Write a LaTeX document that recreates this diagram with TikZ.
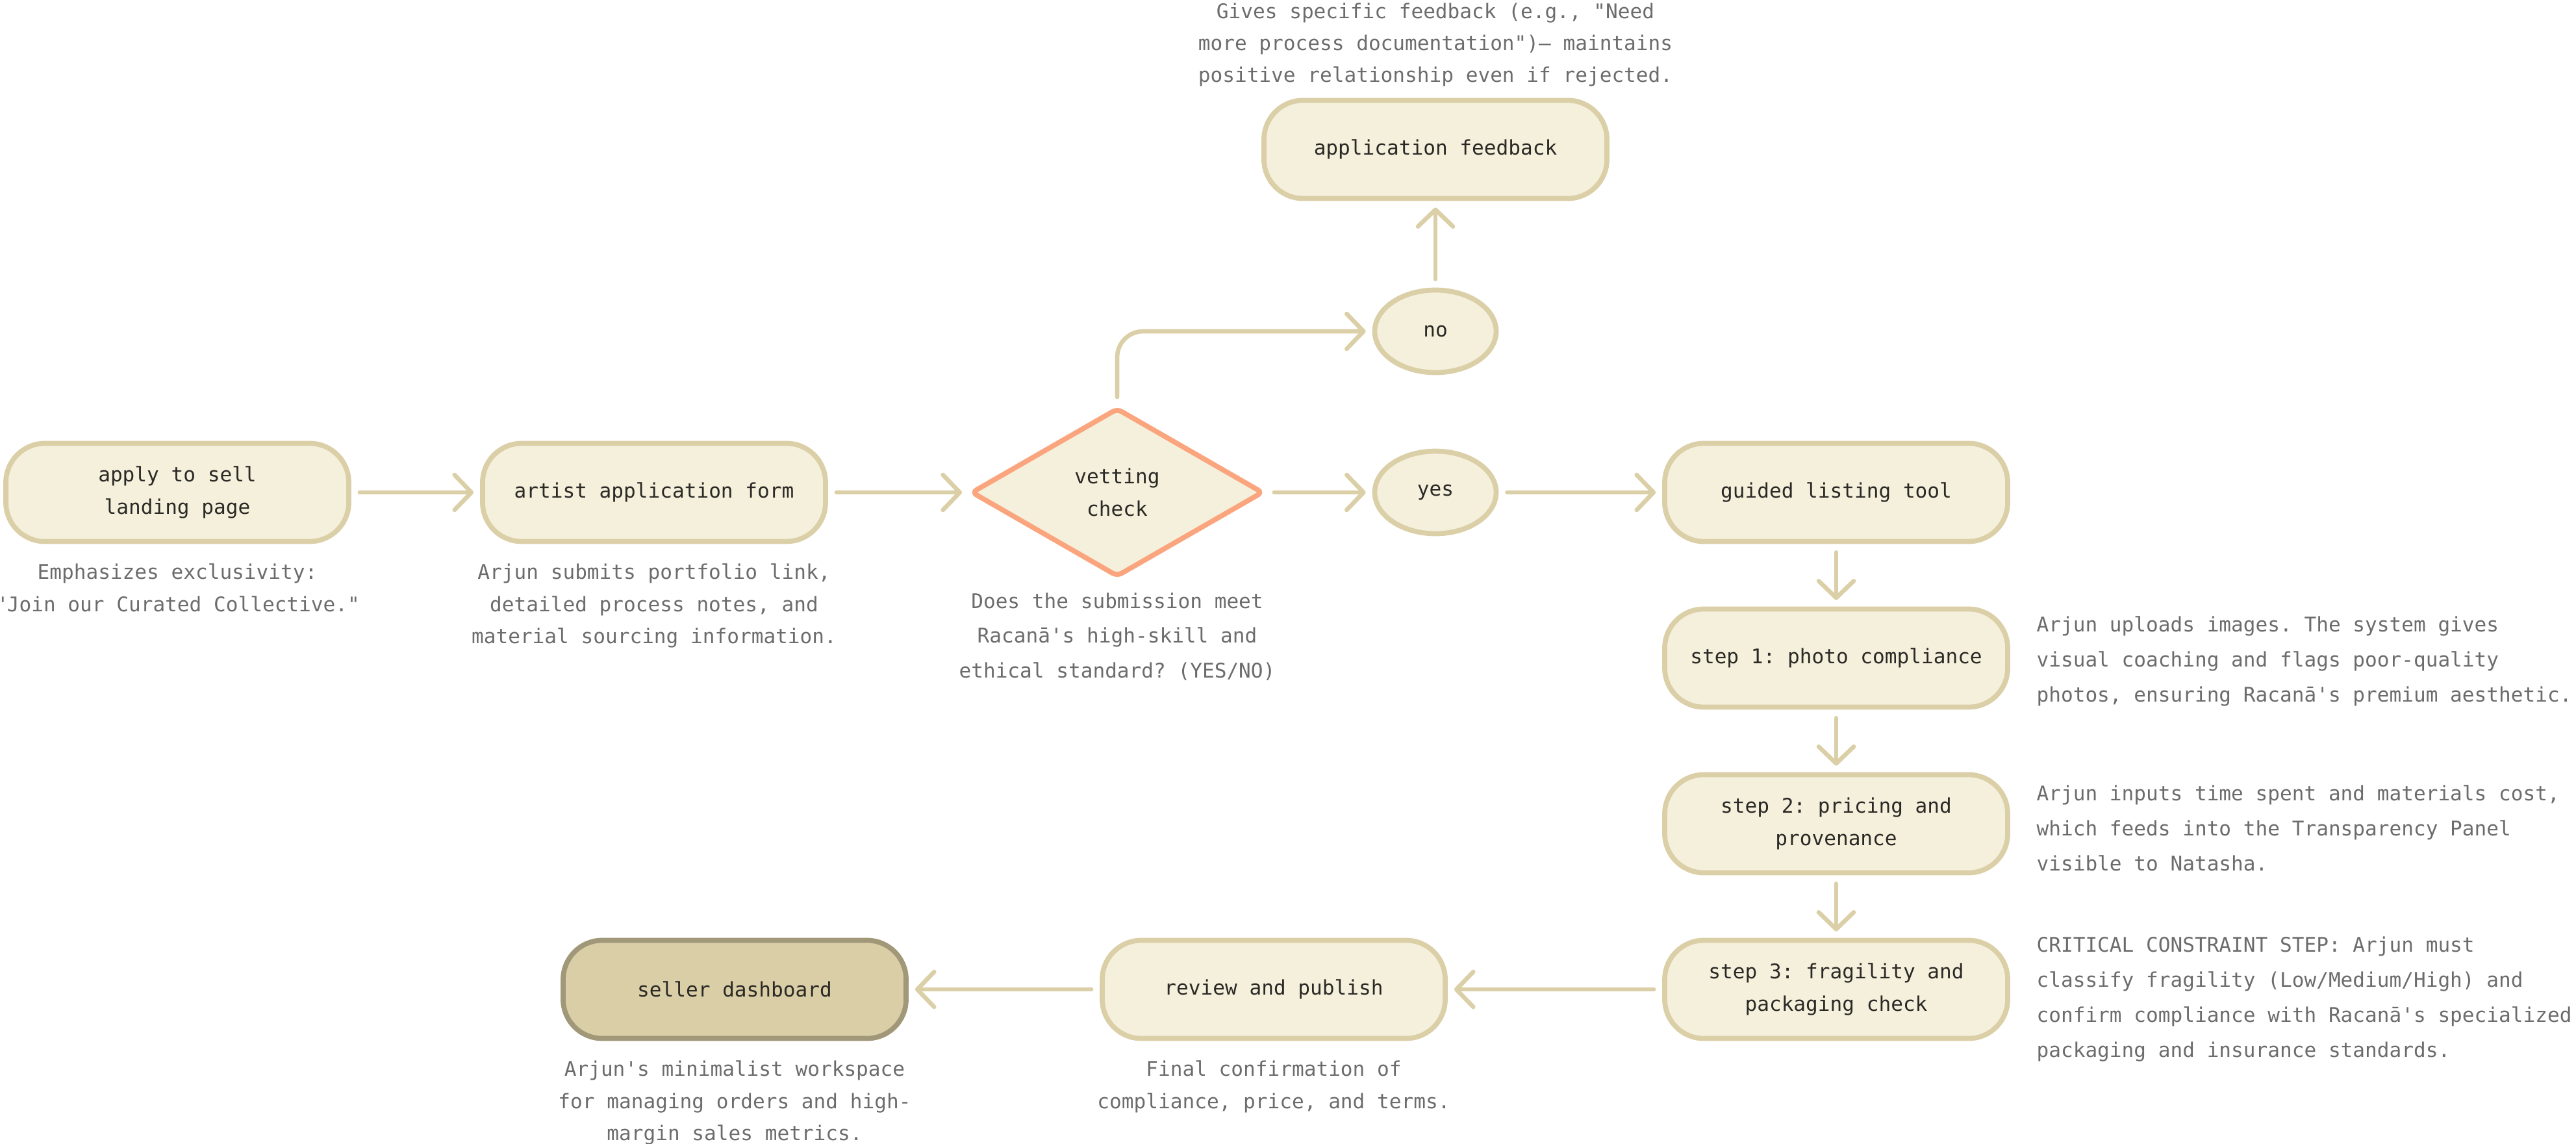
\documentclass[tikz,border=0pt]{standalone}
\usepackage{fontspec}
\setmonofont{DejaVu Sans Mono}
\usepackage{xcolor}
\usepackage{tikz}
\usetikzlibrary{positioning, shapes.geometric, arrows.meta}
\definecolor{cream}{HTML}{F5F0DC}
\definecolor{sand}{HTML}{DBCFA7}
\definecolor{sandfill}{HTML}{DACEA7}
\definecolor{taupe}{HTML}{A19779}
\definecolor{salmon}{HTML}{FAA57D}
\definecolor{ink}{HTML}{2B2925}
\definecolor{notegray}{HTML}{6C6C6C}
\tikzstyle{stepbox}  = [rectangle, rounded corners=0.6cm, minimum width=5.28cm, minimum height=1.51cm, align=center, draw=sand, fill=cream, line width=2.2pt, text=ink, font=\ttfamily\fontsize{8.85}{14}\selectfont]
\tikzstyle{hubbox}   = [stepbox, draw=taupe, fill=sandfill]
\tikzstyle{vetbox}   = [diamond, rounded corners=0.08cm, minimum width=4.5cm, minimum height=2.6cm, inner sep=0pt, align=center, draw=salmon, fill=cream, line width=2.2pt, text=ink, font=\ttfamily\fontsize{8.85}{14}\selectfont]
\tikzstyle{choice}   = [ellipse, minimum width=1.87cm, minimum height=1.27cm, inner sep=0pt, draw=sand, fill=cream, line width=2.2pt, text=ink, font=\ttfamily\fontsize{8.85}{14}\selectfont]
\tikzstyle{note}     = [align=center, inner sep=0pt, text=notegray, font=\ttfamily\fontsize{8.85}{14}\selectfont]
\tikzstyle{widenote} = [note, font=\ttfamily\fontsize{8.85}{15.3}\selectfont]
\tikzstyle{sidenote} = [widenote, align=left]
\tikzstyle{arrow}    = [line width=1.9pt, draw=sand, line cap=round, ->, >={Straight Barb[length=2.6mm, width=5.4mm, round]}, shorten <=0.13cm, shorten >=0.1cm]

\begin{document}
\begin{tikzpicture}[node distance=2.55cm]
    \useasboundingbox (0,0) rectangle (39.66,-17.61);

    \node (apply)    [stepbox] at (2.73,-7.58) {apply to sell\\landing page};
    \node (form)     [stepbox, right of=apply, xshift=4.79cm] {artist application form};
    \node (vetting)  [vetbox,  right of=form, xshift=4.58cm] {vetting\\check};
    \node (yes)      [choice,  right of=vetting, xshift=2.35cm] {yes};
    \node (no)       [choice,  above of=yes, yshift=-0.07cm] {no};
    \node (feedback) [stepbox, above of=no, yshift=0.25cm] {application feedback};
    \node (guided)   [stepbox, right of=yes, xshift=3.62cm] {guided listing tool};
    \node (photo)    [stepbox, below of=guided] {step 1: photo compliance};
    \node (pricing)  [stepbox, below of=photo] {step 2: pricing and\\provenance};
    \node (fragile)  [stepbox, below of=pricing] {step 3: fragility and\\packaging check};
    \node (review)   [stepbox, left of=fragile, xshift=-6.11cm] {review and publish};
    \node (seller)   [hubbox,  left of=review, xshift=-5.75cm] {seller dashboard};

    % notes
    \node (applynote)  [note, below=0.3cm of apply] {Emphasizes exclusivity:\\"Join our Curated Collective."};
    \node (formnote)   [note, below=0.3cm of form] {Arjun submits portfolio link,\\detailed process notes, and\\material sourcing information.};
    \node (vetnote)    [widenote, below=0.2cm of vetting] {Does the submission meet\\Racanā's high-skill and\\ethical standard? (YES/NO)};
    \node (fbnote)     [note, above=0.17cm of feedback] {Gives specific feedback (e.g., "Need\\more process documentation")— maintains\\positive relationship even if rejected.};
    \node (photonote)  [sidenote, right=0.4cm of photo, yshift=-0.05cm] {Arjun uploads images. The system gives\\visual coaching and flags poor-quality\\photos, ensuring Racanā's premium aesthetic.};
    \node (pricenote)  [sidenote, right=0.4cm of pricing, yshift=-0.07cm] {Arjun inputs time spent and materials cost,\\which feeds into the Transparency Panel\\visible to Natasha.};
    \node (fragnote)   [sidenote, right=0.4cm of fragile, yshift=-0.15cm] {CRITICAL CONSTRAINT STEP: Arjun must\\classify fragility (Low/Medium/High) and\\confirm compliance with Racanā's specialized\\packaging and insurance standards.};
    \node (reviewnote) [note, below=0.3cm of review] {Final confirmation of\\compliance, price, and terms.};
    \node (sellernote) [note, below=0.3cm of seller] {Arjun's minimalist workspace\\for managing orders and high-\\margin sales metrics.};

    % arrows
    \draw [arrow] (apply)   -- (form);
    \draw [arrow] (form)    -- (vetting);
    \draw [arrow] (vetting) -- (yes);
    \draw [arrow, rounded corners=0.4cm] (vetting.north) |- (no.west);
    \draw [arrow] (no)      -- (feedback);
    \draw [arrow] (yes)     -- (guided);
    \draw [arrow] (guided)  -- (photo);
    \draw [arrow] (photo)   -- (pricing);
    \draw [arrow] (pricing) -- (fragile);
    \draw [arrow] (fragile) -- (review);
    \draw [arrow] (review)  -- (seller);

\end{tikzpicture}
\end{document}
